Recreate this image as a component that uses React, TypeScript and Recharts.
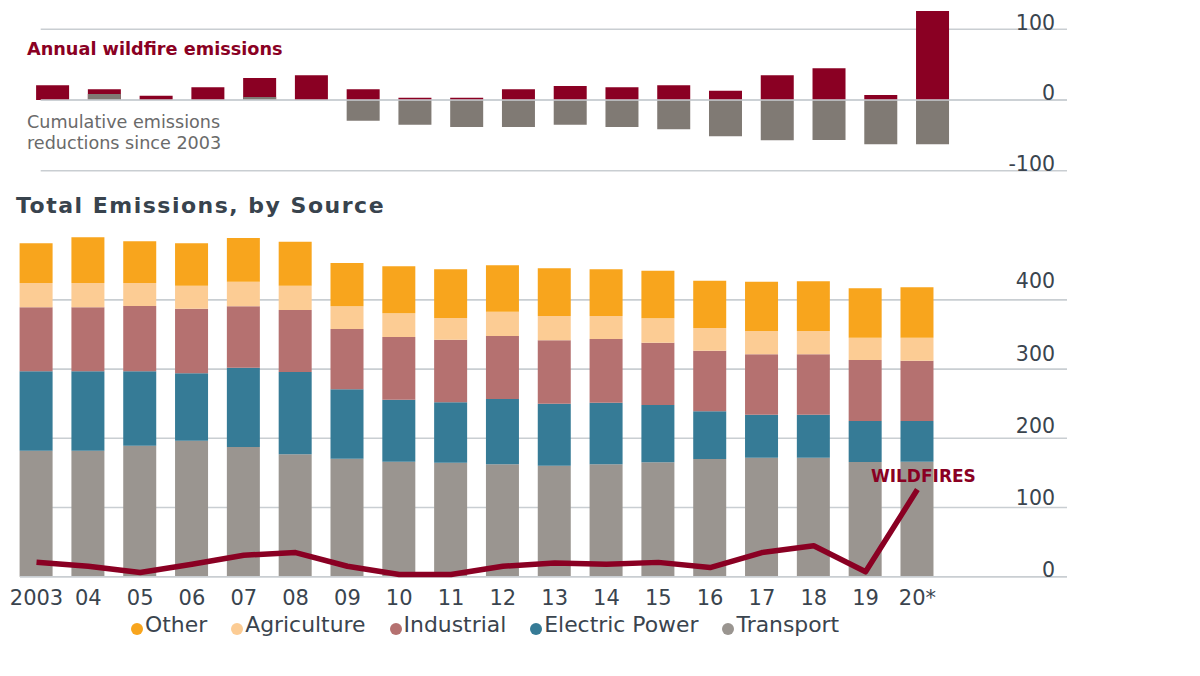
import React from 'react';
import { ComposedChart, Bar, Line, XAxis, YAxis, CartesianGrid, ReferenceLine } from 'recharts';

const years = ['2003', '04', '05', '06', '07', '08', '09', '10', '11', '12', '13', '14', '15', '16', '17', '18', '19', '20*'];

// bottom panel, stacked from the bottom up
const transport = [182.1, 182.1, 189.3, 196.5, 187.4, 176.9, 170.5, 166.2, 164.7, 162.4, 160.4, 162.4, 165.3, 170.1, 172.0, 172.0, 165.8, 166.2];
const electricPower = [114.7, 114.7, 107.5, 97.4, 114.6, 118.9, 100.3, 89.6, 87.3, 94.4, 89.6, 89.0, 82.8, 68.9, 62.1, 62.1, 59.2, 58.8];
const industrial = [92.5, 92.5, 94.4, 93.4, 88.7, 89.6, 87.1, 90.6, 90.5, 91.0, 91.6, 92.1, 90.1, 87.6, 87.3, 87.3, 88.2, 87.1];
const agriculture = [35.1, 35.1, 33.2, 33.2, 35.6, 35.1, 32.8, 34.2, 31.3, 35.2, 35.1, 33.2, 35.2, 32.8, 33.7, 33.7, 32.2, 33.3];
const other = [57.4, 66.1, 60.3, 61.3, 63.2, 63.6, 62.6, 68.0, 70.4, 67.0, 69.0, 67.5, 68.8, 68.3, 71.2, 71.8, 71.4, 72.8];

// top panel
const wildfire = [20.8, 15.1, 6.1, 17.9, 31.1, 34.9, 15.1, 3.3, 3.3, 15.1, 19.8, 17.9, 20.7, 13.2, 34.9, 44.8, 7.1, 125.9];
const cumulativeReduction = [0, 8.5, 0, 0, 4.2, 0, -29.2, -34.9, -38.2, -38.2, -34.9, -38.2, -41.5, -51.4, -57.1, -56.6, -62.7, -62.7];

const totalTicks = [0, 100, 200, 300, 400];
const topTicks = [-100, 0, 100];

const RED = '#8a0023';
const CUM_GRAY = '#807a74';
const GRID = '#c9ced2';
const INK = '#3a444e';
const FONT = '"DejaVu Sans", sans-serif';

const sources = [
  { key: 'other', name: 'Other', color: '#f8a51d' },
  { key: 'agriculture', name: 'Agriculture', color: '#fccc94' },
  { key: 'industrial', name: 'Industrial', color: '#b57170' },
  { key: 'electricPower', name: 'Electric Power', color: '#367b96' },
  { key: 'transport', name: 'Transport', color: '#9a9590' },
];

const totals = years.map((year, i) => ({
  year,
  transport: transport[i],
  electricPower: electricPower[i],
  industrial: industrial[i],
  agriculture: agriculture[i],
  other: other[i],
  wildfire: wildfire[i],
}));

const annual = years.map((year, i) => ({
  year,
  wildfire: wildfire[i],
  cumulative: cumulativeReduction[i],
}));

const topPad = { left: -13.6, right: 108.2 };

// value labels sit above their grid line, right aligned
function rightTick(lift: (v: number) => number) {
  return (p: any) => (
    <text
      x={p.x - 12}
      y={p.y - lift(p.payload.value) + 20.5 * 0.3645}
      textAnchor="end"
      fontFamily={FONT}
      fontSize={20.5}
      fill={INK}
    >
      {p.payload.value}
    </text>
  );
}

function bottomTick(p: any) {
  return (
    <text x={p.x} y={p.y + 7.3 + 21 * 0.3645} textAnchor="middle" fontFamily={FONT} fontSize={21} fill={INK}>
      {p.payload.value}
    </text>
  );
}

function wildfireLabel(p: any) {
  if (p.index !== years.length - 1) return null;
  return (
    <text x={p.x + 6} y={p.y - 8} textAnchor="middle" fontFamily={FONT} fontSize={17} fontWeight={700} fill={RED}>
      WILDFIRES
    </text>
  );
}

export default function App() {
  return (
    <div style={{ position: 'relative', width: 1200, height: 676, background: '#fff', fontFamily: FONT }}>
      <style>{'body{margin:0}'}</style>

      <div style={{ position: 'absolute', left: 0, top: 0 }}>
        <ComposedChart width={1200} height={190} data={annual} margin={{ top: 8.1, right: 132, bottom: 19.3, left: 40.7 }}>
          <XAxis xAxisId="wild" dataKey="year" hide padding={topPad} />
          <XAxis xAxisId="cum" dataKey="year" hide padding={topPad} />
          <YAxis
            orientation="right"
            width={1}
            domain={[-100, 130]}
            ticks={topTicks}
            tickSize={0}
            tickMargin={0}
            axisLine={false}
            tickLine={false}
            tick={rightTick(() => 7)}
          />
          <CartesianGrid xAxisId="wild" vertical={false} syncWithTicks stroke={GRID} strokeWidth={1.6} />
          <Bar xAxisId="wild" dataKey="wildfire" fill={RED} barSize={33} isAnimationActive={false} />
          <Bar xAxisId="cum" dataKey="cumulative" fill={CUM_GRAY} barSize={33} isAnimationActive={false} />
          <ReferenceLine xAxisId="wild" y={0} stroke={GRID} strokeWidth={1.6} />
        </ComposedChart>
      </div>

      <div style={{ position: 'absolute', left: 0, top: 0 }}>
        <ComposedChart width={1200} height={676} data={totals} margin={{ top: 230.7, right: 132, bottom: 69.3, left: 20 }}>
          <XAxis
            dataKey="year"
            height={30}
            padding={{ left: -9.4, right: 123.7 }}
            axisLine={false}
            tickLine={false}
            tickSize={0}
            tickMargin={13}
            interval={0}
            tick={bottomTick}
          />
          <YAxis
            orientation="right"
            width={1}
            domain={[0, 500]}
            ticks={totalTicks}
            tickSize={0}
            tickMargin={0}
            axisLine={false}
            tickLine={false}
            tick={rightTick((v) => 7 + 0.03 * v)}
          />
          <CartesianGrid vertical={false} syncWithTicks stroke={GRID} strokeWidth={1.6} />
          {[...sources].reverse().map((s) => (
            <Bar key={s.key} dataKey={s.key} stackId="src" fill={s.color} barSize={33} isAnimationActive={false} />
          ))}
          <ReferenceLine y={0} stroke={GRID} strokeWidth={1.6} />
          <Line
            dataKey="wildfire"
            type="linear"
            stroke={RED}
            strokeWidth={5.5}
            strokeLinejoin="round"
            dot={false}
            label={wildfireLabel}
            isAnimationActive={false}
          />
        </ComposedChart>
      </div>

      <div style={{ position: 'absolute', left: 27, top: 41, fontSize: 17.7, lineHeight: '17.7px', fontWeight: 700, color: RED }}>
        Annual wildfire emissions
      </div>
      <div style={{ position: 'absolute', left: 27, top: 111.8, fontSize: 17.6, lineHeight: '21px', color: '#6a6a6a' }}>
        Cumulative emissions
        <br />
        reductions since 2003
      </div>
      <div
        style={{
          position: 'absolute',
          left: 16,
          top: 194.7,
          fontSize: 22,
          lineHeight: '22px',
          fontWeight: 700,
          letterSpacing: 1.5,
          color: '#38434d',
        }}
      >
        Total Emissions, by Source
      </div>

      <div style={{ position: 'absolute', left: 131, top: 612, display: 'flex', gap: 24, fontSize: 21.9, lineHeight: '26px', color: INK }}>
        {sources.map((s) => (
          <div key={s.key} style={{ display: 'flex', alignItems: 'center' }}>
            <span style={{ width: 12, height: 12, borderRadius: 6, background: s.color, marginTop: 7, marginRight: 2 }} />
            {s.name}
          </div>
        ))}
      </div>
    </div>
  );
}
